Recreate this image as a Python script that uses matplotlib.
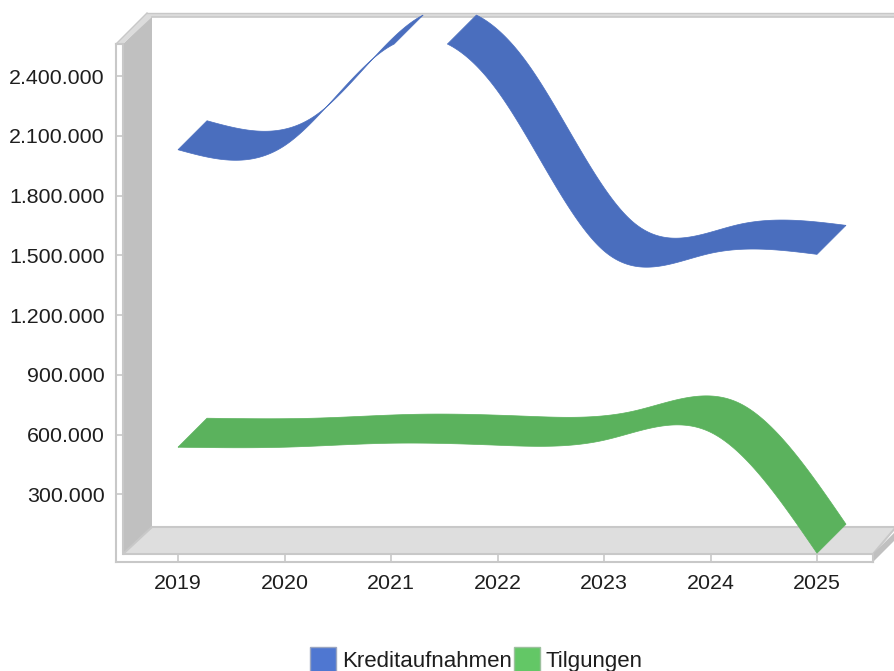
import numpy as np
import matplotlib
matplotlib.use("Agg")
import matplotlib.pyplot as plt
from matplotlib.patches import Patch, Polygon

plt.rcParams['font.family'] = ['Liberation Sans', 'DejaVu Sans']

years = [2019, 2020, 2021, 2022, 2023, 2024, 2025]
kredit = [2030000, 2050000, 2552000, 2325000, 1522000, 1510000, 1505000]
tilgung = [537000, 537000, 557000, 547000, 572000, 612000, 5000]
ytick_values = [300000, 600000, 900000, 1200000, 1500000, 1800000, 2100000, 2400000]
ytick_labels = ['300.000', '600.000', '900.000', '1.200.000', '1.500.000', '1.800.000', '2.100.000', '2.400.000']

W, H = 894, 671
L, R, T, B = 116, 873, 44, 562   # front frame in pixels
DEPTH = 29                       # 3d offset in pixels

blue = '#4A6EBE'
green = '#5BB25D'
edge = '#C8C8C8'
wall = '#C0C0C0'
floor = '#DEDEDE'
textc = '#1E1E1E'


def spline(x, y, xs):
    # natural cubic spline, the original chart smooths its lines like this
    x = np.asarray(x, float)
    y = np.asarray(y, float)
    n = len(x)
    A = np.zeros((n, n))
    b = np.zeros(n)
    A[0, 0] = A[-1, -1] = 1
    for j in range(1, n - 1):
        A[j, j-1:j+2] = [1, 4, 1]
        b[j] = 6 * (y[j+1] - 2 * y[j] + y[j-1])
    m = np.linalg.solve(A, b)
    j = np.clip(np.searchsorted(x, xs) - 1, 0, n - 2)
    t = xs - x[j]
    u = x[j+1] - xs
    return (m[j] * u**3 + m[j+1] * t**3) / 6 + (y[j] - m[j] / 6) * u + (y[j+1] - m[j+1] / 6) * t


fig = plt.figure(figsize=(W / 100, H / 100), dpi=100, facecolor='white')

# box walls, in pixel coordinates
bg = fig.add_axes([0, 0, 1, 1], zorder=0)
bg.set_xlim(0, W)
bg.set_ylim(H, 0)
bg.axis('off')
bg.add_patch(Polygon([(123, 44), (152, 15), (152, 527), (123, 554)], fc=wall, ec='none'))
bg.add_patch(Polygon([(123, 554), (152, 527), (W + 2, 527), (873, 554)], fc=floor, ec=edge, lw=1.5))
bg.add_patch(Polygon([(873, 554), (873, 562), (W, 541), (W, 533)], fc=wall, ec='none'))
bg.add_patch(Polygon([(116, 44), (147, 13), (W, 13), (W, 17), (152, 17), (123, 44)], fc='#DCDCDC', ec='none'))
bg.plot([147, W], [13, 13], color=edge, lw=1)
bg.plot([152, W], [16.5, 16.5], color=edge, lw=1.2)
bg.plot([116, 147], [44, 13], color=edge, lw=1)
bg.plot([116, 123], [44, 44], color=edge, lw=1.5)
bg.plot([123, 123], [44, 554], color=edge, lw=1.5)
bg.plot([873, 873], [554, 562], color=edge, lw=1.5)

ax = fig.add_axes([L / W, 1 - B / H, (R - L) / W, (B - T) / H], zorder=1)
ax.patch.set_visible(False)

yr_per_px = 6 / 639
val_per_px = 2100000 / 418.4
y0_px = 554.2
ax.set_xlim(2019 + (L - 178) * yr_per_px, 2019 + (R - 178) * yr_per_px)
ax.set_ylim((y0_px - B) * val_per_px, (y0_px - T) * val_per_px)
top = ax.get_ylim()[1]

xs = np.linspace(years[0], years[-1], 1500)
for values, color in [(kredit, blue), (tilgung, green)]:
    ys = spline(years, values, xs)
    # parts of the ribbon above the axis are dropped, not cut
    ok = ys <= top
    runs = np.split(np.arange(len(xs)), np.where(np.diff(ok))[0] + 1)
    for run in runs:
        if not ok[run[0]]:
            continue
        px = np.r_[xs[run], xs[run][::-1] + DEPTH * yr_per_px]
        py = np.r_[ys[run], ys[run][::-1] + DEPTH * val_per_px]
        ax.fill(px, py, color=color, lw=0.5, clip_on=False)

ax.set_xticks(years)
ax.set_xticklabels(years)
ax.set_yticks(ytick_values)
ax.set_yticklabels(ytick_labels)
ax.tick_params(axis='both', direction='in', length=5, width=1.2, color=edge, labelsize=15.4, labelcolor=textc)
ax.tick_params(axis='x', pad=8.5)
ax.tick_params(axis='y', pad=8)
for s in ['top', 'right']:
    ax.spines[s].set_visible(False)
for s in ['left', 'bottom']:
    ax.spines[s].set_color(edge)
    ax.spines[s].set_linewidth(1.5)

handles = [Patch(fc='#4F77D1', ec='#9AA5C0', label='Kreditaufnahmen'),
           Patch(fc='#63C766', ec='#9CC09E', label='Tilgungen')]
fig.legend(handles=handles, loc='lower left', bbox_to_anchor=(310 / W, -1 / H), frameon=False, ncol=2,
           fontsize=16, labelcolor=textc, borderpad=0, borderaxespad=0, handlelength=1.17, handleheight=1.37,
           handletextpad=0.27, columnspacing=0.09)

fig.savefig('out.png', dpi=100)
